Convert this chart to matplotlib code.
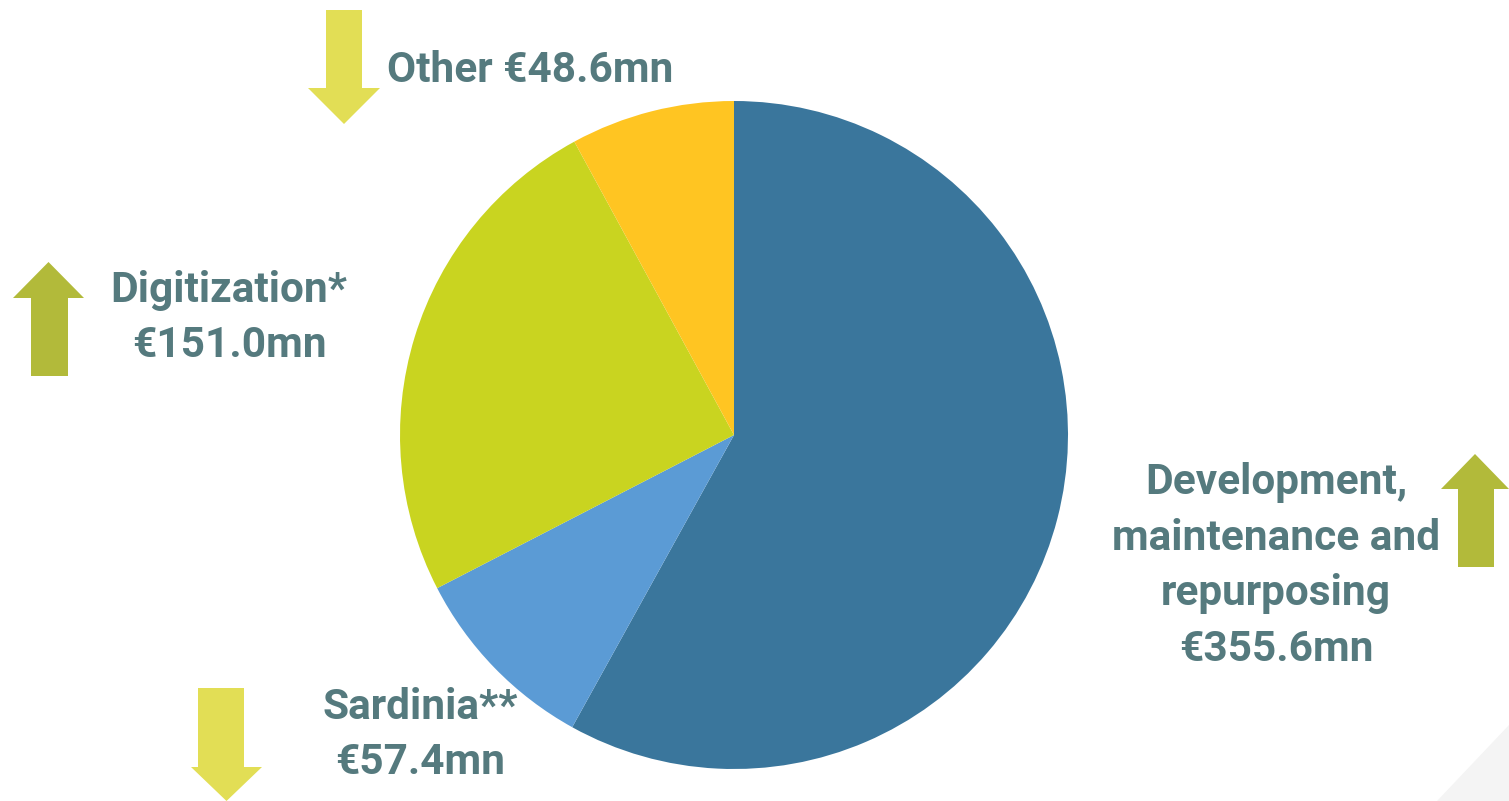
import matplotlib.pyplot as plt
import matplotlib.patches as patches
import numpy as np

labels = ["Development,\nmaintenance and\nrepurposing\n€355.6mn",
          "Sardinia**\n€57.4mn",
          "Digitization*\n€151.0mn",
          "Other €48.6mn"]
values = [355.6, 57.4, 151.0, 48.6]
colors = ["#3a769c", "#5b9bd5", "#c9d420", "#ffc522"]
trend = ["up", "down", "up", "down"]

W, H = 1509, 801
TXT = "#557a7e"
UP = "#b2ba3a"
DOWN = "#e2de55"

fig = plt.figure(figsize=(W / 100, H / 100), dpi=100)
ax = fig.add_axes([0, 0, 1, 1])

# faint page-curl shading in the bottom right corner
ax.add_patch(patches.Polygon([(W, H - 725), (W, 0), (1437, 0)], closed=True,
                             color="#f4f4f4", lw=0))

# pie, centre given in pixel coords (y measured from top)
cx, cy, r = 734, 435, 334
ax.pie(values, colors=colors, startangle=90, counterclock=False,
       center=(cx, H - cy), radius=r, frame=True,
       wedgeprops=dict(linewidth=0))
ax.set_xlim(0, W)
ax.set_ylim(0, H)
ax.set_aspect("equal")
ax.axis("off")

def arrow(x_shaft0, x_shaft1, x_head0, x_head1, y_tail, y_base, y_tip, color):
    xm = (x_head0 + x_head1) / 2
    pts = [(x_shaft0, y_tail), (x_shaft1, y_tail), (x_shaft1, y_base),
           (x_head1, y_base), (xm, y_tip), (x_head0, y_base), (x_shaft0, y_base)]
    pts = [(x, H - y) for x, y in pts]
    ax.add_patch(patches.Polygon(pts, closed=True, color=color, lw=0))

# arrows (pixel coordinates, y from top)
arrow(326, 362, 308, 380, 10, 88, 124, DOWN)      # Other
arrow(31, 68, 13, 84, 376, 298, 262, UP)          # Digitization
arrow(1458, 1494, 1441, 1509, 567, 489, 454, UP)  # Development
arrow(198, 244, 191, 262, 688, 767, 801, DOWN)    # Sardinia

font = dict(family="Roboto", weight="bold", fontsize=30.5, color=TXT,
            linespacing=1.45)
ax.text(387, H - 70, labels[3], ha="left", va="center", **font)
ax.text(229, H - 318, labels[2], ha="center", va="center", multialignment="center", **font)
ax.text(1276, H - 566, labels[0], ha="center", va="center", multialignment="center", **font)
ax.text(420, H - 735, labels[1], ha="center", va="center", multialignment="center", **font)

fig.savefig("out.png", dpi=100)
